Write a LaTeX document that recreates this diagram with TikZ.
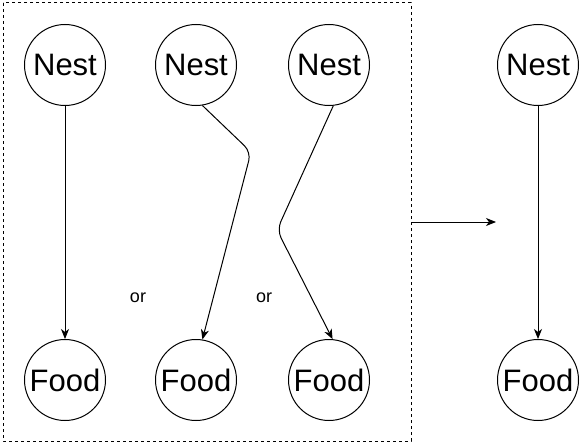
\documentclass[tikz,border=0pt]{standalone}
\usepackage{fontspec}
\setmainfont{Liberation Sans}
\usetikzlibrary{arrows.meta,positioning,calc}

\begin{document}
\begin{tikzpicture}[x=1pt,y=-1pt,line width=1pt,>={Stealth[length=10pt,width=8pt,inset=3pt]},
    place/.style={draw,circle,minimum size=81pt,inner sep=0pt,font=\fontsize{31}{32}\selectfont},
    word/.style={font=\fontsize{18}{20}\selectfont}]
    \useasboundingbox (0,0) rectangle (581,444);
    \draw[dash pattern=on 3pt off 3pt] (3,3) rectangle (411,441);
    \node[place] (nestA) at (65,65) {Nest};
    \node[place] (nestB) at (196,65) {Nest};
    \node[place] (nestC) at (329,65) {Nest};
    \node[place] (nestD) at (538,65) {Nest};
    \node[place] (foodA) at (65,380) {Food};
    \node[place] (foodB) at (196,380) {Food};
    \node[place] (foodC) at (329,380) {Food};
    \node[place] (foodD) at (538,380) {Food};
    \node[word] (orA) at (138,298) {or};
    \node[word] (orB) at (264,298) {or};
    \coordinate (bendB) at (251,152);
    \coordinate (bendC) at (277,230);
    \coordinate (boxR) at (411,222);
    \coordinate (goal) at (496,222);
    \draw[->] (nestA)--(foodA);
    \draw[->,rounded corners=9pt] (nestB.-81)--(bendB)--(foodB.81);
    \draw[->,rounded corners=9pt] (nestC.-84)--(bendC)--(foodC.85);
    \draw[->] (nestD)--(foodD);
    \draw[->] (boxR)--(goal);
\end{tikzpicture}
\end{document}
